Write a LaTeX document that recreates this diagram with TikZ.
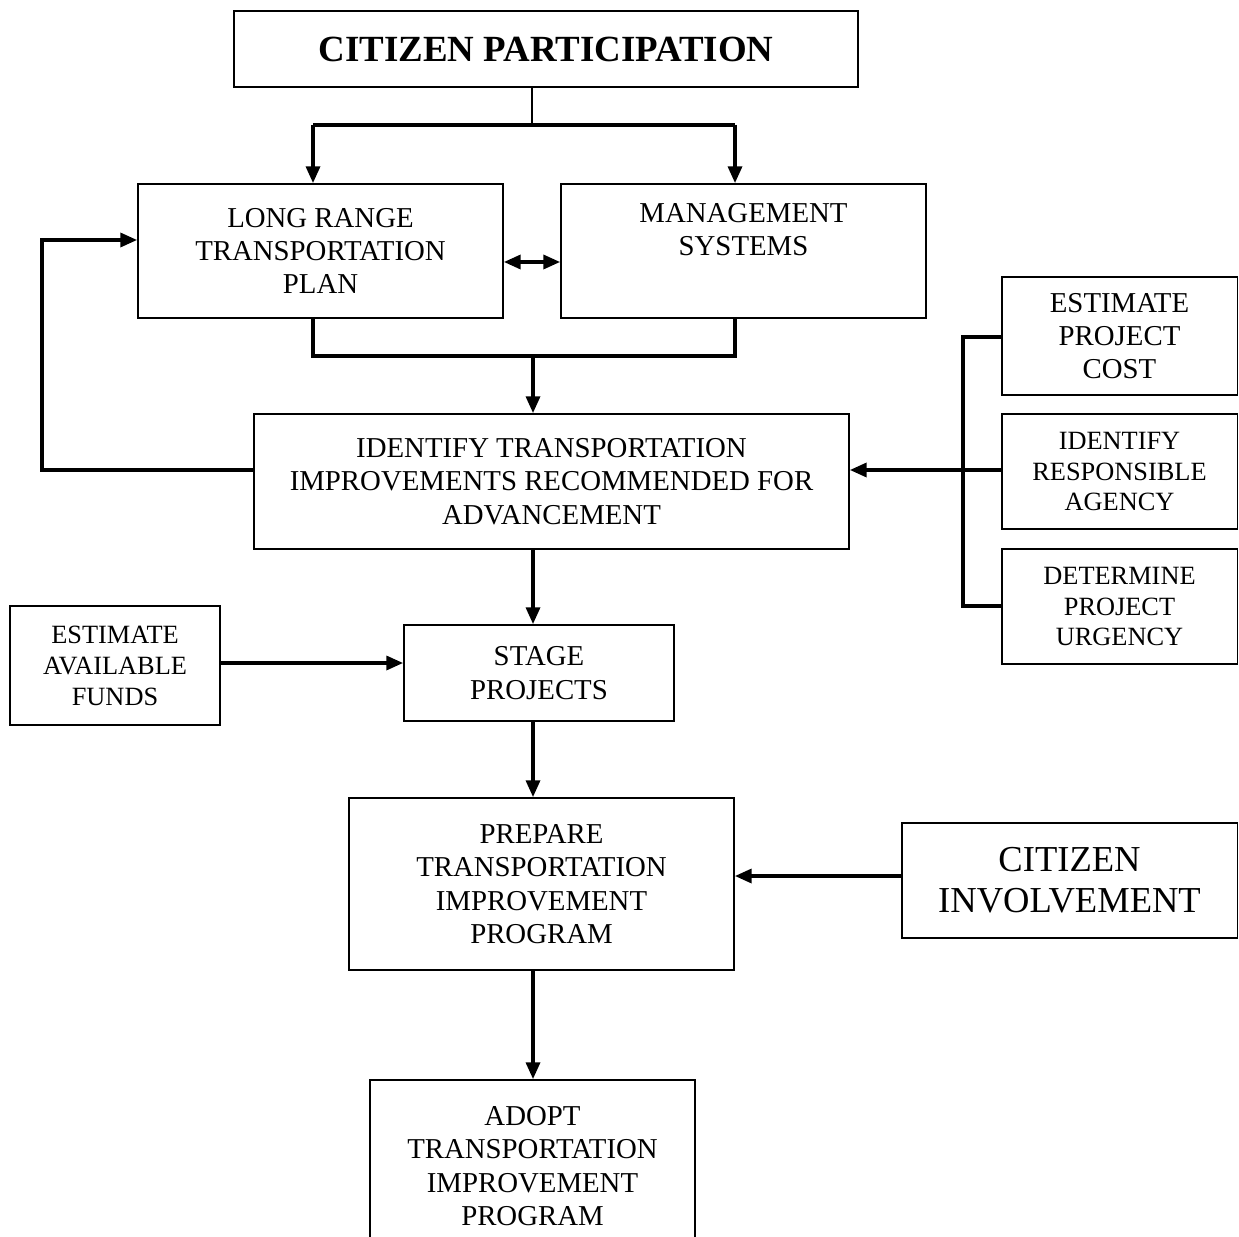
\documentclass[tikz,border=0pt]{standalone}
\usepackage{fontspec}
\setmainfont{Liberation Serif}
\usetikzlibrary{arrows.meta}
\tikzset{
  box/.style={draw, line width=1.1pt, inner sep=0pt, align=center, font=\fontsize{16.4}{19}\selectfont},
  smallbox/.style={box, font=\fontsize{15}{17.6}\selectfont},
  conn/.style={line width=1.8pt},
  thinconn/.style={line width=1.1pt},
  arr/.style={conn, -{Triangle[length=9.5pt,width=8pt]}},
  darr/.style={conn, {Triangle[length=9.5pt,width=8pt]}-{Triangle[length=9.5pt,width=8pt]}}
}
\begin{document}
\begin{tikzpicture}[x=0.02cm,y=-0.02cm]
\useasboundingbox (0,0) rectangle (1239,1236);
\clip (0,0) rectangle (1239,1236);

% nodes
\node[box, minimum width=12.48cm, minimum height=1.52cm, font=\fontsize{21}{24}\selectfont\bfseries] (cp) at (546,49) {CITIZEN PARTICIPATION};
\node[box, minimum width=7.3cm, minimum height=2.68cm] (lrtp) at (320.5,251) {LONG RANGE\\TRANSPORTATION\\PLAN};
\node[box, minimum width=7.3cm, minimum height=2.68cm] (ms) at (743.5,251) {MANAGEMENT\\SYSTEMS\\\strut};
\node[box, minimum width=11.9cm, minimum height=2.7cm] (itr) at (551.5,481.5) {IDENTIFY TRANSPORTATION\\IMPROVEMENTS RECOMMENDED FOR\\ADVANCEMENT};
\node[box, minimum width=4.72cm, minimum height=2.36cm] (epc) at (1119.5,336) {ESTIMATE\\PROJECT\\COST};
\node[smallbox, minimum width=4.72cm, minimum height=2.3cm] (ira) at (1119.5,471.5) {IDENTIFY\\RESPONSIBLE\\AGENCY};
\node[smallbox, minimum width=4.72cm, minimum height=2.3cm] (dpu) at (1119.5,606.5) {DETERMINE\\PROJECT\\URGENCY};
\node[smallbox, minimum width=4.2cm, minimum height=2.38cm] (eaf) at (115,665.5) {ESTIMATE\\AVAILABLE\\FUNDS};
\node[box, minimum width=5.4cm, minimum height=1.92cm] (sp) at (539,673) {STAGE\\PROJECTS};
\node[box, minimum width=7.7cm, minimum height=3.44cm] (ptip) at (541.5,884) {PREPARE\\TRANSPORTATION\\IMPROVEMENT\\PROGRAM};
\node[box, minimum width=6.72cm, minimum height=2.3cm, font=\fontsize{20.8}{23.2}\selectfont] (ci) at (1069.5,880.5) {CITIZEN\\INVOLVEMENT};
\node[box, minimum width=6.5cm, minimum height=3.44cm] (atip) at (532.5,1166) {ADOPT\\TRANSPORTATION\\IMPROVEMENT\\PROGRAM};

% coordinates
\coordinate (cpj) at (532,125);
\coordinate (jl) at (313,125);
\coordinate (jr) at (735,125);
\coordinate (ml) at (313,356);
\coordinate (mr) at (735,356);
\coordinate (mm) at (533,356);
\coordinate (fbl) at (42,470);
\coordinate (fbt) at (42,240);
\coordinate (bt) at (963,337);
\coordinate (bm) at (963,470);
\coordinate (bb) at (963,606);
\coordinate (fa) at (0,663);
\coordinate (cy) at (0,876);

% connectors
\draw[thinconn] (cp.south -| cpj) -- (cpj);
\draw[conn] (jl) -- (jr);
\draw[arr] (jl) -- (jl |- lrtp.north);
\draw[arr] (jr) -- (jr |- ms.north);
\draw[darr] ([yshift=-0.22cm]lrtp.east) -- ([yshift=-0.22cm]ms.west);
\draw[conn] (ml |- lrtp.south) -- (ml) -- (mr) -- (mr |- ms.south);
\draw[arr] (mm) -- (mm |- itr.north);
\draw[arr] (itr.west |- fbl) -- (fbl) -- (fbt) -- (fbt -| lrtp.west);
\draw[conn] (epc.west |- bt) -- (bt) -- (bb) -- (dpu.west |- bb);
\draw[arr] (ira.west |- bm) -- (itr.east |- bm);
\draw[arr] (mm |- itr.south) -- (mm |- sp.north);
\draw[arr] (eaf.east |- fa) -- (sp.west |- fa);
\draw[arr] (mm |- sp.south) -- (mm |- ptip.north);
\draw[arr] (ci.west |- cy) -- (ptip.east |- cy);
\draw[arr] (mm |- ptip.south) -- (mm |- atip.north);
\end{tikzpicture}
\end{document}
